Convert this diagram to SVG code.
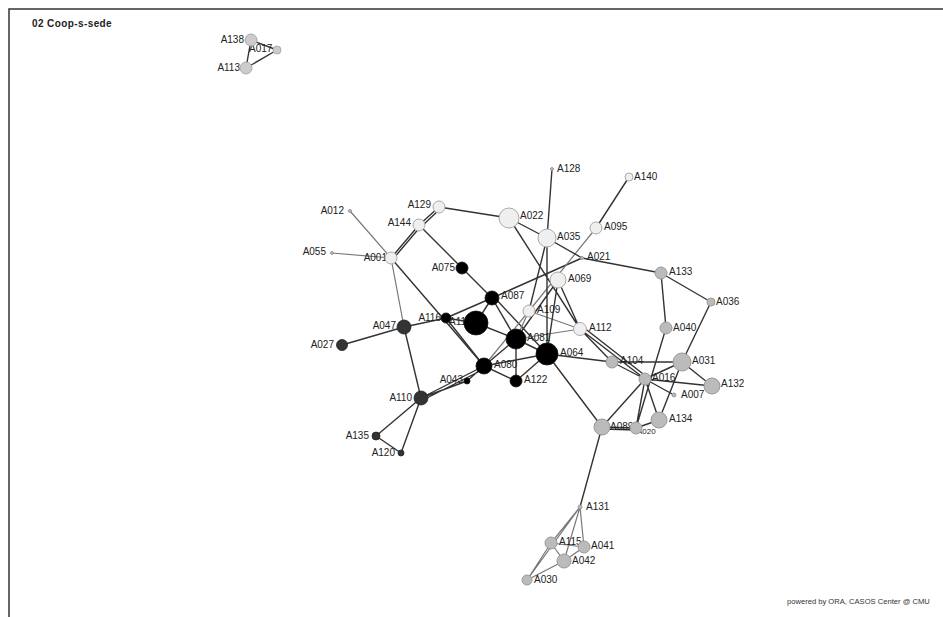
<svg xmlns="http://www.w3.org/2000/svg" width="943" height="617" viewBox="0 0 943 617">
<style>
.e{stroke:#333;stroke-width:1.4;fill:none}
.g{stroke:#777;stroke-width:1.2;fill:none}
.k{fill:#000;stroke:#111;stroke-width:0.8}
.d{fill:#333;stroke:#222;stroke-width:0.8}
.w{fill:#efefef;stroke:#aaa;stroke-width:1}
.m{fill:#bbb;stroke:#999;stroke-width:1}
.l{fill:#ccc;stroke:#aaa;stroke-width:1}
text{font-family:"Liberation Sans",Arial,sans-serif;font-size:10px;fill:#222}
.r{text-anchor:end}
</style>
<rect width="943" height="617" fill="#fff"/>
<path d="M9 617V9H943" stroke="#333" stroke-width="1.5" fill="none"/>
<text x="32" y="27" style="font-weight:bold;font-size:10px;letter-spacing:0.4px">02 Coop-s-sede</text>
<text x="787" y="604" style="font-size:7.6px;fill:#333">powered by ORA, CASOS Center @ CMU</text>
<g id="connectors">
<path class="e" d="M251 40L246 68M246 68L277 50M251 40L277 50"/>
<path class="g" d="M350 211L391 258M332 253L391 258M391 258L404 327"/>
<path class="e" d="M391 258L419 225M393 259L421 226M419 225L439 207M421 227L441 208M439 207L509 218"/>
<path class="e" d="M419 225L462 268M462 268L492 298M391 258L484 366"/>
<path class="e" d="M404 327L342 345M404 327L446 318M446 318L492 298M492 298L582 258M404 327L421 398"/>
<path class="e" d="M446 318L484 366M446 318L476 323M476 323L516 339M476 323L492 298"/>
<path class="e" d="M492 298L516 339M494 297L547 354M516 339L547 354M516 339L484 366M516 339L516 381M484 366L547 354M484 366L516 381M547 354L516 381"/>
<path class="e" d="M484 366L467 381M484 366L421 398M486 368L423 400M467 381L421 398"/>
<path class="e" d="M421 398L376 436M421 398L401 453M376 436L401 453"/>
<path class="g" d="M516 339L529 311M484 366L529 311M529 311L596 228M529 311L580 329M516 339L580 329"/>
<path class="e" d="M509 218L547 238M509 218L580 329M547 238L582 258M547 238L552 169M547 238L529 311M547 238L547 354M558 280L547 354M558 280L516 339M558 280L580 329"/>
<path class="e" d="M629 177L596 228M582 258L661 273M661 273L711 302M661 273L666 328M711 302L682 362"/>
<path class="e" d="M580 329L612 362M580 329L645 379M583 327L647 377M547 354L612 362M547 354L602 427M612 362L682 362M612 362L645 379"/>
<path class="e" d="M666 328L636 428M645 379L682 362M645 379L712 386M682 362L712 386M645 379L674 395M645 379L659 420M682 362L659 420M645 379L602 427M645 379L636 428"/>
<path class="e" d="M602 427L636 428M602 429L636 430M636 428L659 420M602 427L580 507"/>
<path class="g" d="M580 507L551 543M580 507L584 547M580 507L564 561M580 507L527 580M551 543L584 547M551 543L564 561M551 543L527 580M564 561L527 580M584 547L564 561"/>
</g>
<g id="labels">
<text x="244" y="43" class="r">A138</text>
<text x="249" y="52">A017</text>
<text x="240" y="71" class="r">A113</text>
<text x="557" y="172">A128</text>
<text x="634" y="180">A140</text>
<text x="344" y="214" class="r">A012</text>
<text x="431" y="208" class="r">A129</text>
<text x="520" y="219">A022</text>
<text x="411" y="226" class="r">A144</text>
<text x="557" y="240">A035</text>
<text x="604" y="230">A095</text>
<text x="326" y="255" class="r">A055</text>
<text x="387" y="261" class="r">A001</text>
<text x="587" y="260">A021</text>
<text x="455" y="271" class="r">A075</text>
<text x="568" y="282">A069</text>
<text x="669" y="275">A133</text>
<text x="501" y="299">A087</text>
<text x="716" y="305">A036</text>
<text x="537" y="313">A109</text>
<text x="441" y="321" class="r">A116</text>
<text x="449" y="325">A117</text>
<text x="396" y="329" class="r">A047</text>
<text x="334" y="348" class="r">A027</text>
<text x="527" y="341">A081</text>
<text x="589" y="331">A112</text>
<text x="560" y="356">A064</text>
<text x="620" y="364">A104</text>
<text x="673" y="331">A040</text>
<text x="692" y="364">A031</text>
<text x="494" y="368">A080</text>
<text x="463" y="383" class="r">A043</text>
<text x="524" y="383">A122</text>
<text x="652" y="381">A016</text>
<text x="721" y="387">A132</text>
<text x="681" y="398">A007</text>
<text x="412" y="401" class="r">A110</text>
<text x="669" y="422">A134</text>
<text x="610" y="430">A089</text>
<text x="637" y="434" style="font-size:8px">A020</text>
<text x="369" y="439" class="r">A135</text>
<text x="395" y="456" class="r">A120</text>
<text x="586" y="510">A131</text>
<text x="559" y="545">A115</text>
<text x="591" y="549">A041</text>
<text x="572" y="564">A042</text>
<text x="534" y="583">A030</text>
</g>
<g id="A138"><circle class="l" cx="251" cy="40" r="6"/></g>
<g id="A017"><circle class="l" cx="277" cy="50" r="4"/></g>
<g id="A113"><circle class="l" cx="246" cy="68" r="6"/></g>
<g id="A128"><circle class="m" cx="552" cy="169" r="1.5"/></g>
<g id="A140"><circle class="w" cx="629" cy="177" r="4"/></g>
<g id="A012"><circle class="m" cx="350" cy="211" r="1.5"/></g>
<g id="A129"><circle class="w" cx="439" cy="207" r="6"/></g>
<g id="A022"><circle class="w" cx="509" cy="218" r="10"/></g>
<g id="A144"><circle class="w" cx="419" cy="225" r="6"/></g>
<g id="A035"><circle class="w" cx="547" cy="238" r="9"/></g>
<g id="A095"><circle class="w" cx="596" cy="228" r="6"/></g>
<g id="A055"><circle class="m" cx="332" cy="253" r="1.5"/></g>
<g id="A001"><circle class="w" cx="391" cy="258" r="6"/></g>
<g id="A021"><circle class="m" cx="582" cy="258" r="1.5"/></g>
<g id="A075"><circle class="k" cx="462" cy="268" r="6"/></g>
<g id="A069"><circle class="w" cx="558" cy="280" r="8"/></g>
<g id="A133"><circle class="m" cx="661" cy="273" r="6"/></g>
<g id="A087"><circle class="k" cx="492" cy="298" r="7"/></g>
<g id="A036"><circle class="m" cx="711" cy="302" r="4"/></g>
<g id="A109"><circle class="w" cx="529" cy="311" r="6"/></g>
<g id="A116"><circle class="k" cx="446" cy="318" r="5"/></g>
<g id="A117"><circle class="k" cx="476" cy="323" r="12"/></g>
<g id="A047"><circle class="d" cx="404" cy="327" r="7"/></g>
<g id="A027"><circle class="d" cx="342" cy="345" r="5.5"/></g>
<g id="A081"><circle class="k" cx="516" cy="339" r="10"/></g>
<g id="A112"><circle class="w" cx="580" cy="329" r="6.5"/></g>
<g id="A064"><circle class="k" cx="547" cy="354" r="11"/></g>
<g id="A104"><circle class="m" cx="612" cy="362" r="6"/></g>
<g id="A040"><circle class="m" cx="666" cy="328" r="6"/></g>
<g id="A031"><circle class="m" cx="682" cy="362" r="9"/></g>
<g id="A080"><circle class="k" cx="484" cy="366" r="8"/></g>
<g id="A043"><circle class="k" cx="467" cy="381" r="3"/></g>
<g id="A122"><circle class="k" cx="516" cy="381" r="6"/></g>
<g id="A016"><circle class="m" cx="645" cy="379" r="6"/></g>
<g id="A132"><circle class="m" cx="712" cy="386" r="8"/></g>
<g id="A007"><circle class="m" cx="674" cy="395" r="2"/></g>
<g id="A110"><circle class="d" cx="421" cy="398" r="7"/></g>
<g id="A134"><circle class="m" cx="659" cy="420" r="8"/></g>
<g id="A089"><circle class="m" cx="602" cy="427" r="8"/></g>
<g id="A020"><circle class="m" cx="636" cy="428" r="6"/></g>
<g id="A135"><circle class="d" cx="376" cy="436" r="4"/></g>
<g id="A120"><circle class="d" cx="401" cy="453" r="3"/></g>
<g id="A131"><circle class="m" cx="580" cy="507" r="2"/></g>
<g id="A115"><circle class="m" cx="551" cy="543" r="6"/></g>
<g id="A041"><circle class="m" cx="584" cy="547" r="6"/></g>
<g id="A042"><circle class="m" cx="564" cy="561" r="7"/></g>
<g id="A030"><circle class="m" cx="527" cy="580" r="5"/></g>
</svg>
